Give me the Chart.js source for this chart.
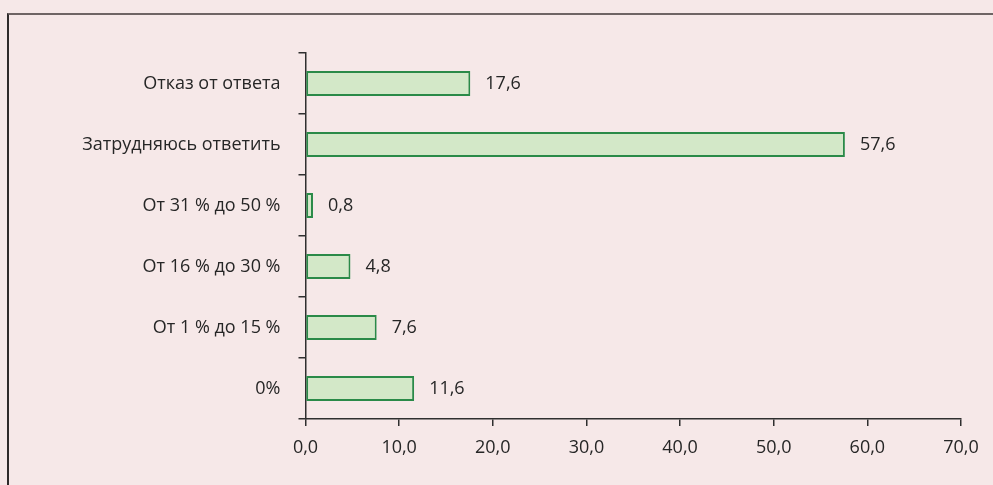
<!DOCTYPE html>
<html>
<head>
<meta charset="utf-8">
<script src="https://cdn.jsdelivr.net/npm/chart.js@4/dist/chart.umd.min.js"></script>
<style>
  html, body { margin: 0; padding: 0; background: #f6e8e8; }
  #wrap { position: relative; width: 993px; height: 485px; overflow: hidden; }
  #frame {
    position: absolute; left: 7px; top: 13px; width: 1000px; height: 500px;
    border-top: 2px solid #6e6464; border-left: 2px solid #2e2a2a;
    box-sizing: border-box;
  }
  canvas { position: absolute; left: 0; top: 0; }
</style>
</head>
<body>
<div id="wrap">
  <div id="frame"></div>
  <canvas id="chart" width="993" height="485"></canvas>
</div>
<script>
// --- data ---
const categories = [
  'Отказ от ответа',
  'Затрудняюсь ответить',
  'От 31 % до 50 %',
  'От 16 % до 30 %',
  'От 1 % до 15 %',
  '0%'
];
const values = [17.6, 57.6, 0.8, 4.8, 7.6, 11.6];
const xTicks = [0, 10, 20, 30, 40, 50, 60, 70];

const FONT = { family: 'Open Sans', size: 18 };
const TEXT = '#262626';
const AXIS = '#2f2f2f';

const fmt = v => v.toFixed(1).replace('.', ',');

// value labels to the right of each bar
const valueLabels = {
  id: 'valueLabels',
  afterDatasetsDraw(chart) {
    const ctx = chart.ctx;
    const meta = chart.getDatasetMeta(0);
    ctx.save();
    ctx.font = FONT.size + 'px ' + FONT.family;
    ctx.fillStyle = TEXT;
    ctx.textAlign = 'left';
    ctx.textBaseline = 'middle';
    meta.data.forEach((bar, i) => {
      ctx.fillText(fmt(values[i]), bar.x + 15, bar.y);
    });
    ctx.restore();
  }
};

new Chart(document.getElementById('chart'), {
  type: 'bar',
  data: {
    labels: categories,
    datasets: [{
      data: values,
      backgroundColor: '#d3e8c8',
      borderColor: '#2a8a48',
      borderWidth: 2,
      borderSkipped: false,
      categoryPercentage: 1,
      barPercentage: 0.41
    }]
  },
  options: {
    indexAxis: 'y',
    responsive: false,
    animation: false,
    layout: { padding: { left: 0, top: 53, right: 32, bottom: 0 } },
    plugins: { legend: { display: false }, tooltip: { enabled: false } },
    scales: {
      x: {
        min: 0,
        max: 70,
        afterBuildTicks: s => { s.ticks = xTicks.map(v => ({ value: v })); },
        afterFit: s => { s.height = 66; },
        border: { color: AXIS, width: 1.5 },
        grid: { drawOnChartArea: false, color: AXIS, tickLength: 7, lineWidth: 1.5 },
        ticks: { color: TEXT, font: FONT, padding: 11, callback: v => fmt(v) }
      },
      y: {
        afterFit: s => { s.width = 305.5; },
        border: { color: AXIS, width: 1.5 },
        grid: { drawOnChartArea: false, color: AXIS, tickLength: 7, lineWidth: 1.5 },
        ticks: { color: TEXT, font: FONT, padding: 18 }
      }
    }
  },
  plugins: [valueLabels]
});
</script>
</body>
</html>
